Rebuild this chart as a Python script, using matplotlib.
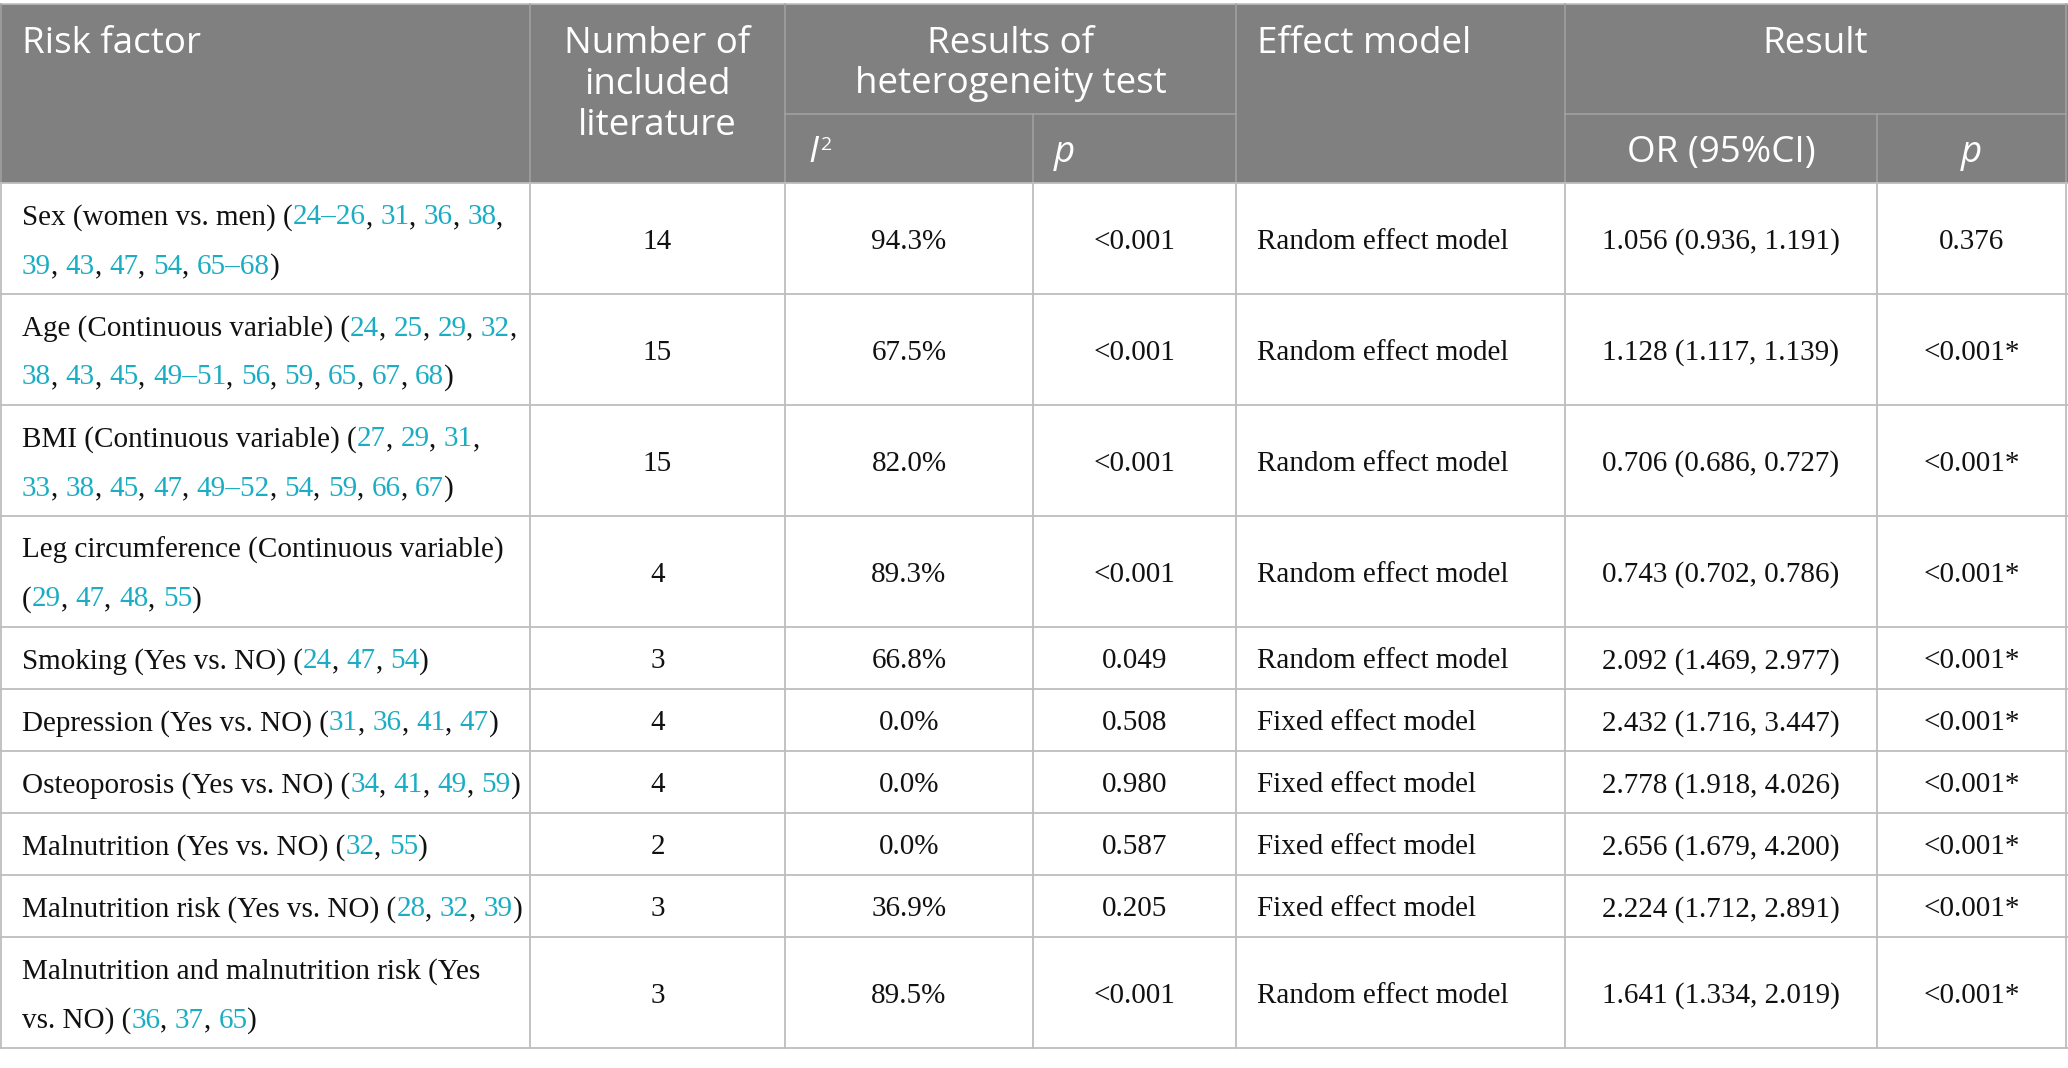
import re
import matplotlib
matplotlib.use('Agg')
import matplotlib.pyplot as plt
from matplotlib.patches import Rectangle

# table content ([..] = citation shown in teal, \n = line break as in the source)
factors = [
    "Sex (women vs. men) ([24–26], [31], [36], [38],\n[39], [43], [47], [54], [65–68])",
    "Age (Continuous variable) ([24], [25], [29], [32],\n[38], [43], [45], [49–51], [56], [59], [65], [67], [68])",
    "BMI (Continuous variable) ([27], [29], [31],\n[33], [38], [45], [47], [49–52], [54], [59], [66], [67])",
    "Leg circumference (Continuous variable)\n([29], [47], [48], [55])",
    "Smoking (Yes vs. NO) ([24], [47], [54])",
    "Depression (Yes vs. NO) ([31], [36], [41], [47])",
    "Osteoporosis (Yes vs. NO) ([34], [41], [49], [59])",
    "Malnutrition (Yes vs. NO) ([32], [55])",
    "Malnutrition risk (Yes vs. NO) ([28], [32], [39])",
    "Malnutrition and malnutrition risk (Yes\nvs. NO) ([36], [37], [65])",
]
n_lit = ["14", "15", "15", "4", "3", "4", "4", "2", "3", "3"]
i2 = ["94.3%", "67.5%", "82.0%", "89.3%", "66.8%", "0.0%", "0.0%", "0.0%", "36.9%", "89.5%"]
p_het = ["<0.001", "<0.001", "<0.001", "<0.001", "0.049", "0.508", "0.980", "0.587", "0.205", "<0.001"]
model = ["Random effect model", "Random effect model", "Random effect model", "Random effect model",
         "Random effect model", "Fixed effect model", "Fixed effect model", "Fixed effect model",
         "Fixed effect model", "Random effect model"]
or_ci = ["1.056 (0.936, 1.191)", "1.128 (1.117, 1.139)", "0.706 (0.686, 0.727)", "0.743 (0.702, 0.786)",
         "2.092 (1.469, 2.977)", "2.432 (1.716, 3.447)", "2.778 (1.918, 4.026)", "2.656 (1.679, 4.200)",
         "2.224 (1.712, 2.891)", "1.641 (1.334, 2.019)"]
p_res = ["0.376", "<0.001*", "<0.001*", "<0.001*", "<0.001*", "<0.001*", "<0.001*", "<0.001*",
         "<0.001*", "<0.001*"]

# layout (pixels)
W, H = 2068, 1068
cols = [1, 530, 785, 1033, 1236, 1565, 1877, 2066]
top, sub, head_bot = 4, 114, 183
line_h = 49
head_c = '#7f807f'
head_line = '#a3a3a3'
grid_c = '#bdbdbd'
teal = '#1badc3'
serif = dict(family='Liberation Serif', size=21, color='#111111')
sans = dict(family='Open Sans', size=26.5, color='white')

fig = plt.figure(figsize=(W / 100, H / 100), dpi=100)
ax = fig.add_axes([0, 0, 1, 1])
ax.set_xlim(0, W)
ax.set_ylim(H, 0)
ax.axis('off')
r = fig.canvas.get_renderer()


def text_w(s, **kw):
    t = ax.text(0, 0, s + '|', **kw)
    w1 = t.get_window_extent(r).width
    t.remove()
    t = ax.text(0, 0, '|', **kw)
    w2 = t.get_window_extent(r).width
    t.remove()
    return w1 - w2


def rich_line(x, y, line):
    # draw black text with teal citation pieces
    parts = re.split(r'(\[[^\]]*\])', line)
    done = ''
    for p in parts:
        if not p:
            continue
        seg = p[1:-1] if p.startswith('[') else p
        c = teal if p.startswith('[') else serif['color']
        kw = dict(serif)
        kw['color'] = c
        ax.text(x + text_w(done, **serif), y, seg, ha='left', va='baseline', **kw)
        done += seg


# header block
ax.add_patch(Rectangle((0, top), W, head_bot - top, color=head_c, lw=0))
ax.plot([0, W], [top, top], color=grid_c, lw=1.2)
for x in [cols[1], cols[2], cols[4], cols[5]]:
    ax.plot([x, x], [top, head_bot], color=head_line, lw=1.1)
for x in [cols[3], cols[6]]:
    ax.plot([x, x], [sub, head_bot], color=head_line, lw=1.1)
ax.plot([cols[2], cols[4]], [sub, sub], color=head_line, lw=1.1)
ax.plot([cols[5], cols[7]], [sub, sub], color=head_line, lw=1.1)
ax.plot([cols[0], cols[0]], [top, head_bot], color=head_line, lw=1.1)
ax.plot([cols[7], cols[7]], [top, head_bot], color=head_line, lw=1.1)

b1, b2, b3 = 53, 93.5, 135
ax.text(22, b1, 'Risk factor', ha='left', va='baseline', **sans)
cx = (cols[1] + cols[2]) / 2
for yy, s in zip([b1, b2, b3], ['Number of', 'included', 'literature']):
    ax.text(cx, yy, s, ha='center', va='baseline', **sans)
cx = (cols[2] + cols[4]) / 2
for yy, s in zip([b1, b2], ['Results of', 'heterogeneity test']):
    ax.text(cx, yy, s, ha='center', va='baseline', **sans)
ax.text(cols[4] + 21, b1, 'Effect model', ha='left', va='baseline', **sans)
ax.text((cols[5] + cols[7]) / 2, b1, 'Result', ha='center', va='baseline', **sans)
sb = 162
ax.text(cols[2] + 23, sb, 'I', ha='left', va='baseline', style='italic', **sans)
sm = dict(sans)
sm['size'] = 14
ax.text(cols[2] + 36, sb - 12, '2', ha='left', va='baseline', **sm)
ax.text(cols[3] + 21, sb, 'p', ha='left', va='baseline', style='italic', **sans)
ax.text((cols[5] + cols[6]) / 2, sb, 'OR (95%CI)', ha='center', va='baseline', **sans)
ax.text((cols[6] + cols[7]) / 2, sb, 'p', ha='center', va='baseline', style='italic', **sans)

# body rows
y0 = head_bot
edges = [y0]
for i, f in enumerate(factors):
    lines = f.split('\n')
    h = 13 + line_h * len(lines)
    yc = y0 + h / 2
    for k, ln in enumerate(lines):
        rich_line(22, yc + 10.5 + (k - (len(lines) - 1) / 2) * line_h, ln)
    yb = yc + 10.5
    ax.text((cols[1] + cols[2]) / 2, yb, n_lit[i], ha='center', va='baseline', **serif)
    ax.text((cols[2] + cols[3]) / 2, yb, i2[i], ha='center', va='baseline', **serif)
    ax.text((cols[3] + cols[4]) / 2, yb, p_het[i], ha='center', va='baseline', **serif)
    ax.text(cols[4] + 21, yb, model[i], ha='left', va='baseline', **serif)
    ax.text((cols[5] + cols[6]) / 2, yb, or_ci[i], ha='center', va='baseline', **serif)
    ax.text((cols[6] + cols[7]) / 2, yb, p_res[i], ha='center', va='baseline', **serif)
    y0 += h
    edges.append(y0)

for e in edges:
    ax.plot([0, W], [e, e], color=grid_c, lw=1.3)
for x in cols:
    ax.plot([x, x], [head_bot, edges[-1]], color=grid_c, lw=1.3)

fig.savefig('out.png', dpi=100, facecolor='white')
